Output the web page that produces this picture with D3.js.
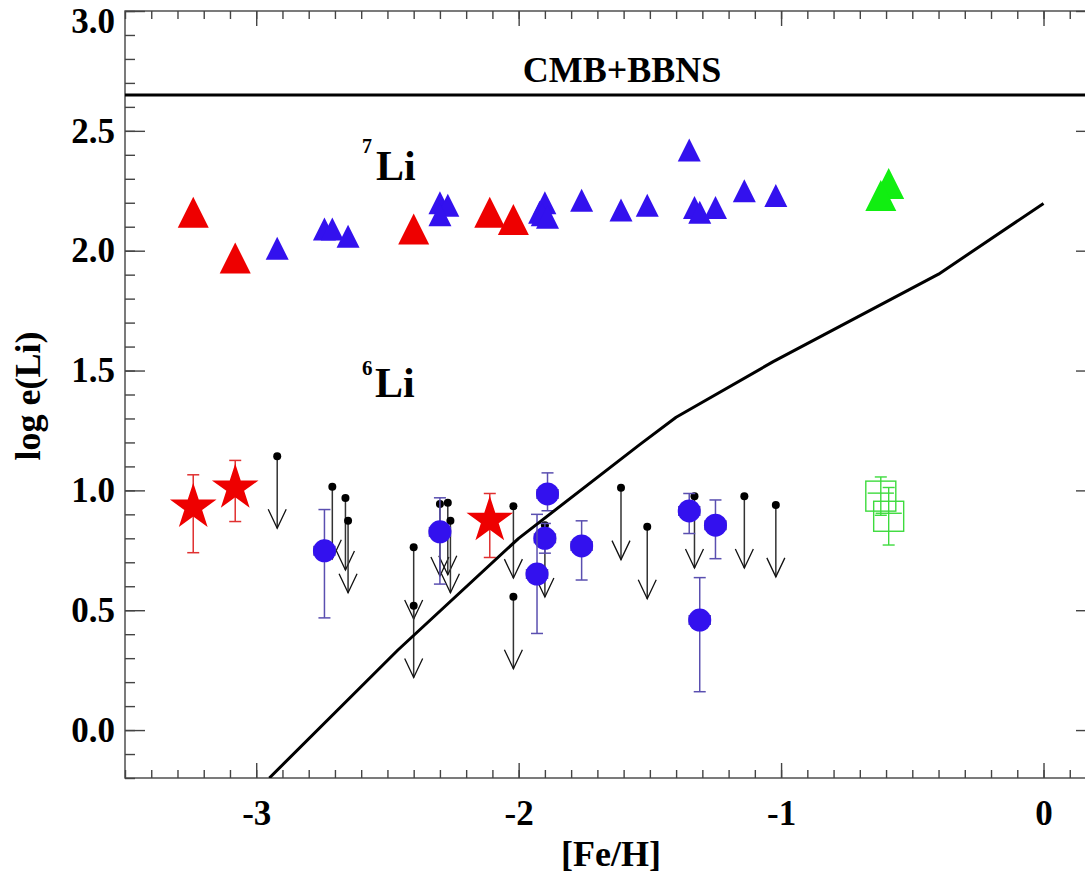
<!DOCTYPE html>
<html><head><meta charset="utf-8">
<script src="https://cdn.jsdelivr.net/npm/d3@7"></script>
<style>
html,body{margin:0;padding:0;background:#fff;}
svg{display:block;font-family:"Liberation Serif","Times New Roman",serif;font-weight:bold;}
</style>
</head><body>
<svg id="chart" width="1085" height="876"></svg>
<script>
// ---------------- data ----------------
const xMajorTicks = [-3, -2, -1, 0];
const yMajorTicks = [0.0, 0.5, 1.0, 1.5, 2.0, 2.5, 3.0];
const bbnLevel = 2.65;
const bbnLabel = "CMB+BBNS";

// GCE model curve
const modelFeH = [-2.95, -2.46, -2.00, -1.54, -1.40, -1.03, -0.40, 0.00];
const modelLi  = [-0.20, 0.334, 0.80, 1.19, 1.305, 1.537, 1.902, 2.197];

// 7Li: red triangles
const li7RedFeH = [-3.24, -3.08, -2.40, -2.11, -2.02];
const li7RedLi  = [2.16, 1.97, 2.09, 2.16, 2.13];
// 7Li: blue triangles
const li7BlueFeH = [-2.92, -2.74, -2.71, -2.65, -2.30, -2.27, -2.30, -1.92, -1.90, -1.91, -1.89, -1.76, -1.61, -1.51, -1.35, -1.33, -1.31, -1.25, -1.14, -1.02];
const li7BlueLi  = [2.01, 2.09, 2.09, 2.06, 2.20, 2.19, 2.15, 2.16, 2.20, 2.15, 2.14, 2.21, 2.17, 2.19, 2.42, 2.18, 2.16, 2.18, 2.25, 2.23];
// 7Li: green triangles
const li7GreenFeH = [-0.59, -0.62];
const li7GreenLi  = [2.28, 2.23];

// 6Li: red stars (with error bars)
const li6StarFeH = [-3.24, -3.08, -2.11];
const li6StarLi  = [0.93, 1.01, 0.875];
const li6StarLo  = [0.74, 0.87, 0.72];
const li6StarHi  = [1.065, 1.125, 0.987];

// 6Li: blue circles (with error bars)
const li6CircFeH = [-2.74, -2.30, -1.89, -1.90, -1.93, -1.76, -1.35, -1.25, -1.31];
const li6CircLi  = [0.748, 0.827, 0.985, 0.80, 0.651, 0.768, 0.914, 0.855, 0.459];
const li6CircLo  = [0.468, 0.609, 0.915, 0.738, 0.403, 0.626, 0.82, 0.715, 0.16];
const li6CircHi  = [0.92, 0.969, 1.073, 0.862, 0.90, 0.873, 0.987, 0.96, 0.636];
const li6CircXErr = 0.04;

// 6Li: upper limits (black dots with arrows)
const li6LimFeH = [-2.92, -2.71, -2.66, -2.65, -2.40, -2.40, -2.30, -2.27, -2.26, -2.02, -2.02, -1.90, -1.61, -1.51, -1.33, -1.14, -1.02];
const li6LimLi  = [1.142, 1.015, 0.968, 0.873, 0.763, 0.519, 0.943, 0.948, 0.873, 0.934, 0.556, 0.855, 1.011, 0.848, 0.976, 0.976, 0.939];
const arrowLen = 0.3;

// 6Li: green open squares
const li6SqFeH = [-0.62, -0.59];
const li6SqLi  = [0.976, 0.892];
const li6SqErr = [0.08, 0.12];
const li6SqXErr = 0.05;

// ---------------- chart ----------------
const svg = d3.select("#chart");
const L = 125, R = 1096, T = 11, B = 778;
const x = d3.scaleLinear().domain([-3.5, 0.2]).range([L, R]);
const y = d3.scaleLinear().domain([-0.2, 3.0]).range([B, T]);

const xMinor = d3.range(-35, 3).map(i => i / 10);
const yMinor = d3.range(-2, 31).map(i => i / 10);

svg.append("defs").append("clipPath").attr("id", "clip")
  .append("rect").attr("x", L).attr("y", T).attr("width", R - L).attr("height", B - T);

const axisColor = "#444";
function styleAxis(g) {
  g.select(".domain").remove();
  g.selectAll(".tick line").attr("stroke", axisColor).attr("stroke-width", 1.4);
}
// bottom
svg.append("g").attr("transform", `translate(0,${B})`)
  .call(d3.axisBottom(x).tickValues(xMinor).tickSize(-8).tickFormat("")).call(styleAxis);
svg.append("g").attr("transform", `translate(0,${B})`)
  .call(d3.axisBottom(x).tickValues(xMajorTicks).tickSize(-15).tickFormat("")).call(styleAxis);
// top
svg.append("g").attr("transform", `translate(0,${T})`)
  .call(d3.axisTop(x).tickValues(xMinor).tickSize(-8).tickFormat("")).call(styleAxis);
svg.append("g").attr("transform", `translate(0,${T})`)
  .call(d3.axisTop(x).tickValues(xMajorTicks).tickSize(-15).tickFormat("")).call(styleAxis);
// left
svg.append("g").attr("transform", `translate(${L},0)`)
  .call(d3.axisLeft(y).tickValues(yMinor).tickSize(-10).tickFormat("")).call(styleAxis);
svg.append("g").attr("transform", `translate(${L},0)`)
  .call(d3.axisLeft(y).tickValues(yMajorTicks).tickSize(-20).tickFormat("")).call(styleAxis);
// right
svg.append("g").attr("transform", `translate(${R},0)`)
  .call(d3.axisRight(y).tickValues(yMinor).tickSize(-10).tickFormat("")).call(styleAxis);
svg.append("g").attr("transform", `translate(${R},0)`)
  .call(d3.axisRight(y).tickValues(yMajorTicks).tickSize(-20).tickFormat("")).call(styleAxis);

// frame
svg.append("rect").attr("x", L).attr("y", T).attr("width", R - L).attr("height", B - T)
  .attr("fill", "none").attr("stroke", axisColor).attr("stroke-width", 1.4);

// tick labels
const xLab = svg.append("g").attr("transform", `translate(0,${B})`)
  .call(d3.axisBottom(x).tickValues(xMajorTicks).tickSize(0).tickPadding(22).tickFormat(d => String(d)));
xLab.select(".domain").remove();
xLab.selectAll("text").attr("font-size", 35).attr("font-family", "Liberation Serif").attr("font-weight", "bold").attr("fill", "#000");

const yLab = svg.append("g").attr("transform", `translate(${L},0)`)
  .call(d3.axisLeft(y).tickValues(yMajorTicks).tickSize(0).tickPadding(10).tickFormat(d => d.toFixed(1)));
yLab.select(".domain").remove();
yLab.selectAll("text").attr("font-size", 35).attr("font-family", "Liberation Serif").attr("font-weight", "bold").attr("fill", "#000");
yLab.selectAll(".tick").filter(d => d === 3.0).select("text").attr("dy", "0.62em");

// axis titles
svg.append("text").attr("x", 611).attr("y", 866).attr("text-anchor", "middle")
  .attr("font-size", 36).text("[Fe/H]");
svg.append("text").attr("transform", "translate(40,396) rotate(-90)").attr("text-anchor", "middle")
  .attr("font-size", 36).text("log e(Li)");

const plot = svg.append("g").attr("clip-path", "url(#clip)");

// CMB+BBNS line
plot.append("line").attr("x1", L).attr("x2", R).attr("y1", y(bbnLevel)).attr("y2", y(bbnLevel))
  .attr("stroke", "#000").attr("stroke-width", 3);
svg.append("text").attr("x", 622).attr("y", 82).attr("text-anchor", "middle")
  .attr("font-size", 36).text(bbnLabel);

// green squares
const greenC = "#3ddb3d";
li6SqFeH.forEach((f, i) => {
  const g = plot.append("g").attr("stroke", greenC).attr("stroke-width", 1.4).attr("fill", "none");
  const cx = x(f), cy = y(li6SqLi[i]);
  g.append("rect").attr("x", cx - 15).attr("y", cy - 15).attr("width", 30).attr("height", 30);
  g.append("line").attr("x1", cx).attr("x2", cx).attr("y1", y(li6SqLi[i] + li6SqErr[i])).attr("y2", y(li6SqLi[i] - li6SqErr[i]));
  [li6SqLi[i] + li6SqErr[i], li6SqLi[i] - li6SqErr[i]].forEach(v =>
    g.append("line").attr("x1", cx - 6).attr("x2", cx + 6).attr("y1", y(v)).attr("y2", y(v)));
  g.append("line").attr("x1", x(f - li6SqXErr)).attr("x2", x(f + li6SqXErr)).attr("y1", cy - 3).attr("y2", cy - 3);
});

// upper limits
li6LimFeH.forEach((f, i) => {
  const g = plot.append("g");
  const cx = x(f), y0 = y(li6LimLi[i]), y1 = y(li6LimLi[i] - arrowLen);
  g.append("line").attr("x1", cx).attr("x2", cx).attr("y1", y0).attr("y2", y1)
    .attr("stroke", "#333").attr("stroke-width", 1.5);
  g.append("path").attr("d", `M${cx - 9},${y1 - 19} L${cx},${y1} L${cx + 9},${y1 - 19}`)
    .attr("fill", "none").attr("stroke", "#111").attr("stroke-width", 1.3);
  g.append("circle").attr("cx", cx).attr("cy", y0).attr("r", 4).attr("fill", "#000");
});

// blue circles
const blueC = "#3311ee", blueErr = "#5a4fb0";
li6CircFeH.forEach((f, i) => {
  const g = plot.append("g");
  const cx = x(f), cy = y(li6CircLi[i]);
  const ge = g.append("g").attr("stroke", blueErr).attr("stroke-width", 1.5);
  ge.append("line").attr("x1", cx).attr("x2", cx).attr("y1", y(li6CircHi[i])).attr("y2", y(li6CircLo[i]));
  [li6CircHi[i], li6CircLo[i]].forEach(v =>
    ge.append("line").attr("x1", cx - 6).attr("x2", cx + 6).attr("y1", y(v)).attr("y2", y(v)));
  const xl = x(f - li6CircXErr), xr = x(f + li6CircXErr);
  ge.append("line").attr("x1", xl).attr("x2", xr).attr("y1", cy).attr("y2", cy);
  [xl, xr].forEach(xx => ge.append("line").attr("x1", xx).attr("x2", xx).attr("y1", cy - 5).attr("y2", cy + 5));
  g.append("circle").attr("cx", cx).attr("cy", cy).attr("r", 11.5).attr("fill", blueC);
});

// red stars
const redC = "#ee0000", redErr = "#e03030";
const star = d3.symbol().type(d3.symbolStar).size(24.5 * 24.5 / 0.8908130915292852);
li6StarFeH.forEach((f, i) => {
  const g = plot.append("g");
  const cx = x(f), cy = y(li6StarLi[i]);
  const ge = g.append("g").attr("stroke", redErr).attr("stroke-width", 1.5);
  ge.append("line").attr("x1", cx).attr("x2", cx).attr("y1", y(li6StarHi[i])).attr("y2", y(li6StarLo[i]));
  [li6StarHi[i], li6StarLo[i]].forEach(v =>
    ge.append("line").attr("x1", cx - 6).attr("x2", cx + 6).attr("y1", y(v)).attr("y2", y(v)));
  g.append("path").attr("d", star()).attr("transform", `translate(${cx},${cy})`).attr("fill", redC);
});

// triangles
function tri(w, h) { return `M${-w / 2},${h / 2}L${w / 2},${h / 2}L0,${-h / 2}Z`; }
li7BlueFeH.forEach((f, i) => {
  plot.append("path").attr("d", tri(23, 23)).attr("transform", `translate(${x(f)},${y(li7BlueLi[i])})`).attr("fill", blueC);
});
li7RedFeH.forEach((f, i) => {
  plot.append("path").attr("d", tri(31, 31)).attr("transform", `translate(${x(f)},${y(li7RedLi[i])})`).attr("fill", redC);
});
li7GreenFeH.forEach((f, i) => {
  plot.append("path").attr("d", tri(31, 31)).attr("transform", `translate(${x(f)},${y(li7GreenLi[i])})`).attr("fill", "#11ee11");
});

// model curve
const line = d3.line().x((d, i) => x(modelFeH[i])).y((d, i) => y(modelLi[i]));
plot.append("path").attr("d", line(modelFeH)).attr("fill", "none").attr("stroke", "#000").attr("stroke-width", 3)
  .attr("stroke-linejoin", "round");

// isotope labels
const t7 = svg.append("g");
t7.append("text").attr("x", 362).attr("y", 153).attr("font-size", 20).text("7");
t7.append("text").attr("x", 376).attr("y", 180).attr("font-size", 42).text("Li");
const t6 = svg.append("g");
t6.append("text").attr("x", 362).attr("y", 375).attr("font-size", 21).text("6");
t6.append("text").attr("x", 375).attr("y", 397).attr("font-size", 42).text("Li");
</script>
</body></html>
